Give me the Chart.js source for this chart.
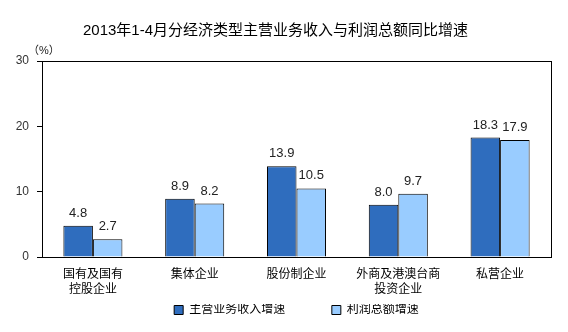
<!DOCTYPE html>
<html>
<head>
<meta charset="utf-8">
<script src="https://cdn.jsdelivr.net/npm/chart.js@4/dist/chart.umd.min.js"></script>
<style>
  html, body { margin: 0; padding: 0; background: #fff; }
  #wrap { width: 568px; height: 332px; }
</style>
</head>
<body>
<div id="wrap"><canvas id="bars"></canvas></div>
<script>
var categories = [['国有及国有', '控股企业'], '集体企业', '股份制企业', ['外商及港澳台商', '投资企业'], '私营企业'];
var revenueGrowth = [4.8, 8.9, 13.9, 8.0, 18.3];
var profitGrowth = [2.7, 8.2, 10.5, 9.7, 17.9];
var yTicks = [0, 10, 20, 30];

var fontFamily = "'Liberation Sans', 'Noto Sans CJK SC', sans-serif";
// room after each legend entry; the legend padding stays 0 so it
// does not push the legend away from the axis
var legendGaps = [14, 0];

// box round the plot, value labels over the bars and the (%) unit
var extras = {
    id: 'extras',
    afterDatasetsDraw: function (chart) {
        var ctx = chart.ctx;
        var area = chart.chartArea;
        ctx.save();
        ctx.strokeStyle = '#000';
        ctx.lineWidth = 1;
        ctx.strokeRect(Math.round(area.left) + 0.5, Math.round(area.top) + 0.5,
            Math.round(area.right - area.left), Math.round(area.bottom - area.top));

        ctx.fillStyle = '#222';
        ctx.font = '13px ' + fontFamily;
        ctx.textAlign = 'center';
        ctx.textBaseline = 'bottom';
        chart.data.datasets.forEach(function (ds, i) {
            chart.getDatasetMeta(i).data.forEach(function (bar, j) {
                ctx.fillText(ds.data[j].toFixed(1), bar.x, bar.y - 6);
            });
        });

        ctx.font = '11px ' + fontFamily;
        ctx.textAlign = 'left';
        ctx.textBaseline = 'bottom';
        ctx.fillText('（%）', chart.scales.y.left + 28, area.top - 5);
        ctx.restore();
    }
};

var ctx = document.getElementById('bars').getContext('2d');
var chart = new Chart(ctx, {
    type: 'bar',
    data: {
        labels: categories,
        datasets: [{
            label: '主营业务收入增速',
            data: revenueGrowth,
            backgroundColor: '#2F6DBE',
            borderColor: '#000',
            borderWidth: 1
        }, {
            label: '利润总额增速',
            data: profitGrowth,
            backgroundColor: '#99CCFF',
            borderColor: '#000',
            borderWidth: 1
        }]
    },
    options: {
        responsive: true,
        maintainAspectRatio: false,
        animation: false,
        layout: { padding: { left: 0, right: 17, bottom: 6 } },
        datasets: { bar: { categoryPercentage: 0.58, barPercentage: 1 } },
        plugins: {
            title: {
                display: true,
                text: '2013年1-4月分经济类型主营业务收入与利润总额同比增速',
                color: '#000',
                font: { family: fontFamily, size: 15, weight: 'normal' },
                padding: { top: 22, bottom: 21 }
            },
            legend: {
                position: 'bottom',
                fullSize: false,
                labels: {
                    color: '#000',
                    font: { family: fontFamily, size: 12 },
                    boxWidth: 9,
                    boxHeight: 9,
                    padding: 0,
                    generateLabels: function (chart) {
                        var items = Chart.defaults.plugins.legend.labels.generateLabels(chart);
                        items.forEach(function (item, i) {
                            item.text = item.text + ' '.repeat(legendGaps[i]);
                        });
                        return items;
                    }
                }
            },
            tooltip: { enabled: false }
        },
        scales: {
            x: {
                afterFit: function (scale) { scale.height -= 3; },
                grid: { display: false, drawTicks: false },
                border: { display: true, color: '#000' },
                ticks: {
                    color: '#000',
                    font: { family: fontFamily, size: 12, lineHeight: 1.25 },
                    maxRotation: 0,
                    padding: 10
                }
            },
            y: {
                min: 0,
                max: 30,
                afterFit: function (scale) { scale.width = 42; },
                afterBuildTicks: function (scale) {
                    scale.ticks = yTicks.map(function (v) { return { value: v }; });
                },
                grid: {
                    drawOnChartArea: false,
                    drawTicks: true,
                    tickLength: 5,
                    color: '#000'
                },
                border: { display: true, color: '#000' },
                ticks: {
                    color: '#333',
                    font: { family: fontFamily, size: 12 },
                    padding: 8
                }
            }
        }
    },
    plugins: [extras]
});
</script>
</body>
</html>
